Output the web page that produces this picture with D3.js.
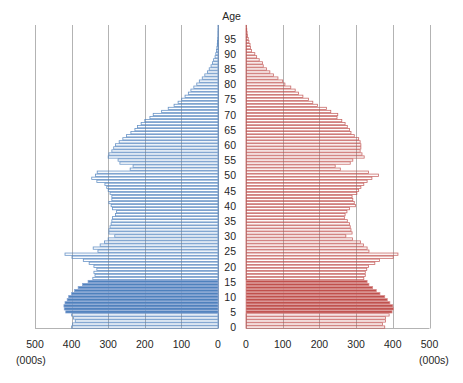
<!DOCTYPE html>
<html><head><meta charset="utf-8">
<script src="https://cdn.jsdelivr.net/npm/d3@7"></script>
<style>body{margin:0;background:#fff}svg{display:block}text{font-family:"Liberation Sans",Arial,sans-serif;fill:#262626}</style>
</head><body><svg id="c" width="463" height="383"></svg>
<script>
const ages = d3.range(0, 100);
const male = [400,397,390,395,400, 416,420,421,418,412,408,400,392,382,370,355,
  342,336,339,331,339,352,368,399,418,328,341,322,310,300,
  282,298,298,295,292,290,288,280,277,288,292,298,290,290,295,300,304,309,331,345,
  335,330,240,232,268,273,300,298,290,285,280,270,260,250,238,227,220,210,200,186,
  177,154,136,120,109,99,90,81,74,66,58,51,43,36,29,24,19,15,12,8,
  6,4,3,2,1.5,1,0.5,0.5,0.3,0.2];
const female = [378,372,380,380,390, 398,402,400,392,385,378,365,355,345,335,330,
  321,325,325,329,334,351,364,401,414,335,330,320,312,290,
  272,289,286,284,282,276,268,270,275,282,298,295,291,289,302,307,313,321,330,343,
  361,334,257,243,284,291,322,316,311,313,313,311,307,295,286,282,276,270,261,248,
  250,231,219,195,182,170,155,143,134,122,106,100,87,75,65,56,47,45,36,29,
  24,15,12,11,8,6,4,3,2,1];
const filledAges = d3.range(5, 16);
const xTicks = [0,100,200,300,400,500];
const ageTicks = d3.range(0, 100, 5);
const unitLabel = "(000s)";
const axisTitle = "Age";

const svg = d3.select("#c");
const plotTop = 25, plotBottom = 328.5;
const y = d3.scaleBand().domain(ages).range([plotBottom, plotTop]).paddingInner(0.25).paddingOuter(0.1);
const xL = d3.scaleLinear().domain([0, 500]).range([218, 35]);
const xR = d3.scaleLinear().domain([0, 500]).range([246, 429.5]);
const grid = "#b3b3b3";

[xL, xR].forEach(sc => {
  svg.append("g").selectAll("line").data(xTicks.filter(d => d > 0)).join("line")
    .attr("x1", d => Math.round(sc(d)) + 0.5).attr("x2", d => Math.round(sc(d)) + 0.5)
    .attr("y1", plotTop).attr("y2", plotBottom).attr("stroke", grid).attr("stroke-width", 1);
});
svg.append("line").attr("x1", xL(500)).attr("x2", xL(0)).attr("y1", 328.5).attr("y2", 328.5).attr("stroke", grid);
svg.append("line").attr("x1", xR(0)).attr("x2", xR(500)).attr("y1", 328.5).attr("y2", 328.5).attr("stroke", grid);
svg.append("line").attr("x1", 218.5).attr("x2", 218.5).attr("y1", plotTop).attr("y2", plotBottom).attr("stroke", "#8a9bb5");
svg.append("line").attr("x1", 246.5).attr("x2", 246.5).attr("y1", plotTop).attr("y2", plotBottom).attr("stroke", "#b89a9a");

function bars(data, sc, side, dark, light) {
  const g = svg.append("g");
  g.selectAll("rect").data(ages).join("rect")
    .attr("x", a => side < 0 ? sc(data[a]) : sc(0))
    .attr("width", a => Math.abs(sc(data[a]) - sc(0)))
    .attr("y", a => y(a))
    .attr("height", y.bandwidth())
    .attr("fill", a => filledAges.includes(a) ? dark : "none")
    .attr("stroke", a => filledAges.includes(a) ? light : dark)
    .attr("stroke-width", 0.8)
    .attr("stroke-opacity", 0.85);
}
bars(male, xL, -1, "#4f81bd", "#7f9fd0");
bars(female, xR, 1, "#c0504d", "#d68a88");

[xL, xR].forEach(sc => {
  svg.append("g").selectAll("text").data(xTicks).join("text")
    .attr("x", d => sc(d)).attr("y", 348).attr("text-anchor", "middle")
    .attr("font-size", "10.5px").text(d => d);
});
svg.append("text").attr("x", 31).attr("y", 364).attr("text-anchor", "middle").attr("font-size", "10.5px").text(unitLabel);
svg.append("text").attr("x", 434).attr("y", 364).attr("text-anchor", "middle").attr("font-size", "10.5px").text(unitLabel);

svg.append("g").selectAll("text").data(ageTicks).join("text")
  .attr("x", 236).attr("y", a => y(a) + y.step() / 2 + 3.8).attr("text-anchor", "end")
  .attr("font-size", "10.5px").text(a => a);
svg.append("text").attr("x", 231.5).attr("y", 20).attr("text-anchor", "middle").attr("font-size", "10.5px").text(axisTitle);
</script></body></html>
